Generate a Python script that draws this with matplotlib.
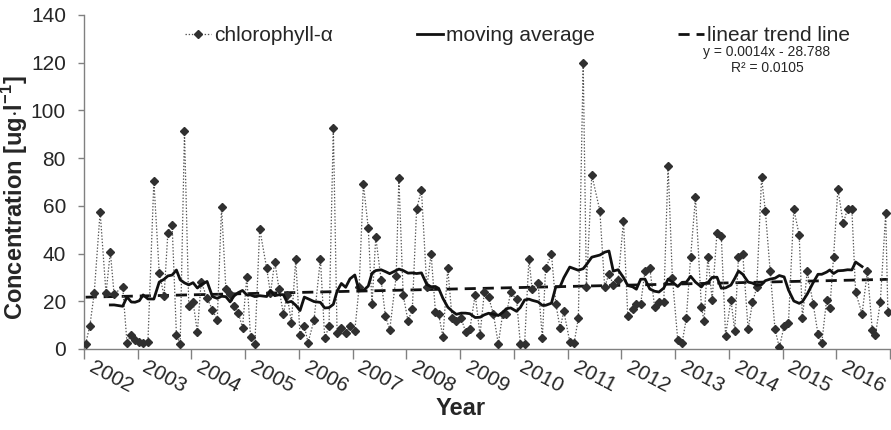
import numpy as np
import pandas as pd
import matplotlib
matplotlib.use("Agg")
import matplotlib.pyplot as plt
from matplotlib.lines import Line2D

plt.rcParams['font.family'] = ['Liberation Sans', 'DejaVu Sans']
plt.rcParams['mathtext.fontset'] = 'custom'
plt.rcParams['mathtext.rm'] = 'Liberation Sans'
plt.rcParams['mathtext.bf'] = 'Liberation Sans:bold'
plt.rcParams['lines.scale_dashes'] = False

# ---------------- data ----------------
sample_year = [
    2002.03, 2002.11, 2002.19, 2002.30, 2002.41, 2002.49, 2002.56, 2002.72, 2002.80, 2002.88, 2002.95,
    2003.03, 2003.10, 2003.19, 2003.30, 2003.40, 2003.49, 2003.56, 2003.64, 2003.72, 2003.79, 2003.87, 2003.95,
    2004.03, 2004.11, 2004.18, 2004.29, 2004.39, 2004.48, 2004.56, 2004.64, 2004.72, 2004.79, 2004.87, 2004.95,
    2005.03, 2005.10, 2005.18, 2005.27, 2005.40, 2005.47, 2005.55, 2005.63, 2005.71, 2005.78, 2005.86, 2005.94,
    2006.02, 2006.10, 2006.17, 2006.28, 2006.40, 2006.48, 2006.56, 2006.64, 2006.71, 2006.79, 2006.87, 2006.95,
    2007.04, 2007.12, 2007.20, 2007.29, 2007.36, 2007.43, 2007.53, 2007.61, 2007.69, 2007.81, 2007.86, 2007.94,
    2008.03, 2008.11, 2008.19, 2008.28, 2008.38, 2008.46, 2008.54, 2008.60, 2008.68, 2008.77, 2008.85, 2008.93,
    2009.02, 2009.10, 2009.18, 2009.28, 2009.37, 2009.45, 2009.53, 2009.62, 2009.71, 2009.79, 2009.86, 2009.94,
    2010.05, 2010.12, 2010.20, 2010.28, 2010.34, 2010.45, 2010.53, 2010.59, 2010.70, 2010.78, 2010.86, 2010.93,
    2011.04, 2011.12, 2011.20, 2011.29, 2011.35, 2011.45, 2011.60, 2011.69, 2011.77, 2011.85, 2011.94,
    2012.04, 2012.12, 2012.21, 2012.28, 2012.36, 2012.44, 2012.53, 2012.62, 2012.70, 2012.79, 2012.87, 2012.95,
    2013.05, 2013.13, 2013.21, 2013.29, 2013.38, 2013.49, 2013.54, 2013.61, 2013.69, 2013.78, 2013.86, 2013.94,
    2014.04, 2014.11, 2014.18, 2014.26, 2014.36, 2014.44, 2014.52, 2014.61, 2014.68, 2014.77, 2014.86, 2014.94,
    2015.03, 2015.11, 2015.21, 2015.31, 2015.37, 2015.46, 2015.57, 2015.66, 2015.73, 2015.82, 2015.88, 2015.95,
    2016.03, 2016.13, 2016.21, 2016.29, 2016.36, 2016.48, 2016.58, 2016.67, 2016.73, 2016.82, 2016.92, 2016.96,
]

chlorophyll = [
    2.2, 9.8, 23.4, 57.5, 23.3, 40.8, 23.0, 26.0, 2.6, 6.0, 3.8,
    3.1, 2.4, 3.1, 70.3, 32.0, 22.1, 48.5, 52.0, 6.0, 2.1, 91.2, 18.0,
    19.7, 7.0, 28.2, 21.4, 16.4, 12.2, 59.4, 25.2, 22.9, 18.1, 15.2, 9.0,
    30.2, 4.9, 2.1, 50.4, 33.8, 23.3, 36.6, 25.2, 14.8, 22.7, 11.0, 37.6,
    5.9, 9.5, 2.7, 12.0, 37.9, 4.5, 9.5, 92.8, 6.6, 8.7, 6.7, 9.5,
    7.7, 26.0, 69.0, 50.7, 18.8, 46.9, 28.8, 13.7, 8.1, 30.6, 71.6, 22.6,
    11.8, 16.6, 58.7, 66.7, 25.8, 39.8, 15.7, 14.7, 5.0, 33.8, 13.0, 11.7,
    12.8, 7.3, 8.2, 22.7, 5.9, 23.7, 21.7, 14.6, 2.1, 14.5, 14.6, 23.7,
    20.8, 2.1, 2.1, 37.8, 25.0, 27.8, 4.5, 33.8, 39.7, 19.0, 8.7, 15.8,
    3.1, 2.4, 12.9, 119.8, 25.9, 73.0, 58.0, 25.9, 31.6, 26.8, 28.8,
    53.7, 13.8, 16.7, 18.9, 18.9, 32.5, 33.8, 17.7, 19.6, 19.6, 76.8, 29.8,
    3.8, 2.4, 12.9, 38.7, 63.6, 17.7, 11.7, 38.7, 20.7, 48.8, 47.5, 5.6,
    20.7, 7.6, 38.7, 39.8, 8.2, 19.5, 25.8, 71.9, 57.9, 32.6, 8.2, 0.7,
    9.6, 10.8, 58.6, 47.8, 12.9, 32.7, 18.9, 6.3, 2.4, 20.7, 17.0, 38.7,
    67.0, 52.7, 58.7, 58.7, 23.8, 14.7, 32.7, 8.0, 5.9, 19.8, 56.9, 15.7,
]

years = list(range(2002, 2017))
y_ticks = [0, 20, 40, 60, 80, 100, 120, 140]
legend_labels = ["chlorophyll-\u03b1", "moving average", "linear trend line"]
equation_text = "y = 0.0014x - 28.788"
r2_text = "R\u00b2 = 0.0105"

# ---------------- derived series ----------------
t = np.array(sample_year)
v = np.array(chlorophyll)
mov_avg = pd.Series(v).rolling(12).mean().shift(-6).to_numpy()
coef = np.polyfit(t, v, 1)
trend = np.polyval(coef, t)

# ---------------- figure ----------------
W, H = 891, 430
fig = plt.figure(figsize=(W / 100, H / 100), dpi=100)
ax = fig.add_axes([84 / W, 1 - 349 / H, (890 - 84) / W, (349 - 15) / H])

txt_col = '#262626'
ax.plot(t, v, color='#555555', lw=0.9, ls=(0, (1, 1.3)), marker='D', ms=4.5,
        mfc='#303030', mec='#303030', zorder=3)
ax.plot(t, mov_avg, color='#111111', lw=2.0, zorder=4)
ax.plot(t, trend, color='#111111', lw=2.0, dashes=(8, 5), zorder=2)

ax.set_xlim(2002, 2017)
ax.set_ylim(0, 140)
ax.set_yticks(y_ticks)
ax.set_xticks(years + [2017])
ax.set_xticklabels([])
ax.set_xticks([y + 0.5 for y in years], minor=True)
ax.set_xticklabels([str(y) for y in years], minor=True, rotation=-28,
                   ha='center', va='top', fontsize=15, color=txt_col)
ax.tick_params(axis='x', which='major', length=7, width=1, color='#808080', direction='out')
ax.tick_params(axis='x', which='minor', length=0, pad=6)
ax.tick_params(axis='y', length=4, width=1, color='#808080', labelsize=15,
               labelcolor=txt_col, pad=9)

for s in ['top', 'right']:
    ax.spines[s].set_visible(False)
for s in ['left', 'bottom']:
    ax.spines[s].set_color('#808080')
    ax.spines[s].set_linewidth(1)

ax.set_ylabel(r"Concentration [ug$\cdot$l$^{\mathbf{-1}}$]", fontsize=17,
              fontweight='bold', color=txt_col)
ax.yaxis.set_label_coords((30 - 84) / 806, 0.452)
ax.set_xlabel("Year", fontsize=17, fontweight='bold', color=txt_col)
ax.xaxis.set_label_coords((461 - 84) / 806, -0.145)

h1 = Line2D([], [], color='#555555', lw=0.9, ls=(0, (1, 1.3)), marker='D', ms=4.5,
            mfc='#303030', mec='#303030')
h2 = Line2D([], [], color='#111111', lw=2.0)
h3 = Line2D([], [], color='#111111', lw=2.0, dashes=(8, 5))
leg = ax.legend([h1, h2, h3], legend_labels, loc='upper left',
                bbox_to_anchor=((179 - 84) / 806, 0.985), ncol=3, frameon=False,
                fontsize=15, handlelength=1.25, handletextpad=0.15,
                columnspacing=4.0, borderpad=0, borderaxespad=0.3, numpoints=1)
for tx in leg.get_texts():
    tx.set_color(txt_col)

fig.text(767 / W, 1 - 52 / H, equation_text, ha='center', va='center',
         fontsize=10, color=txt_col)
fig.text(767 / W, 1 - 68 / H, r2_text, ha='center', va='center',
         fontsize=10, color=txt_col)

fig.savefig("out.png", dpi=100)
